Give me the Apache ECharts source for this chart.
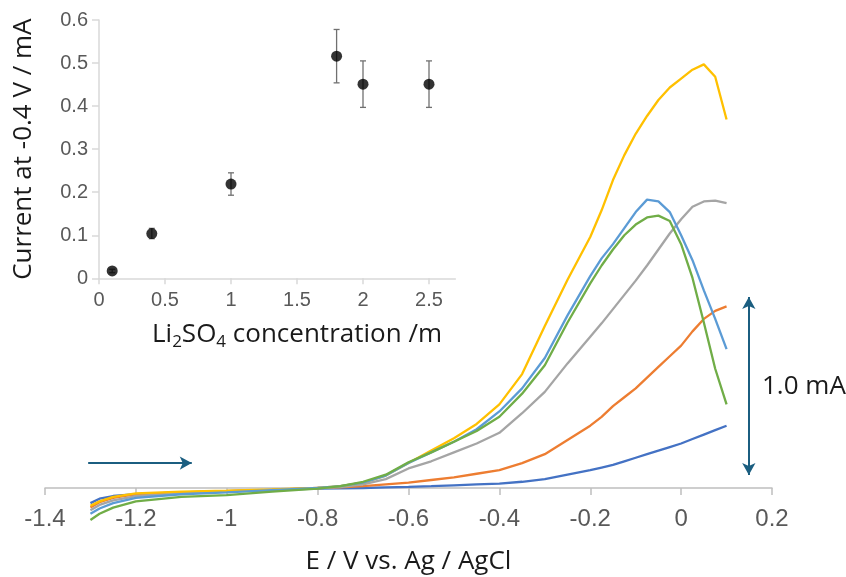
<!DOCTYPE html>
<html>
<head>
<meta charset="utf-8">
<script src="https://cdn.jsdelivr.net/npm/echarts@6/dist/echarts.min.js"></script>
<style>html,body{margin:0;padding:0;background:#fff}#c{width:846px;height:577px}</style>
</head>
<body>
<div id="c"></div>
<script>
// ---- Main chart data (E / V vs Ag/AgCl, current / mA) ----
const potential = [-1.3, -1.28, -1.25, -1.2, -1.1, -1.0, -0.9, -0.8, -0.75, -0.7, -0.65, -0.6, -0.55, -0.5, -0.45, -0.4, -0.35, -0.3, -0.25, -0.2, -0.175, -0.15, -0.125, -0.1, -0.075, -0.05, -0.025, 0, 0.025, 0.05, 0.075, 0.1];
const curveDarkBlue = [-0.085, -0.06, -0.045, -0.035, -0.025, -0.018, -0.01, -0.003, -0.002, 0.0, 0.003, 0.006, 0.01, 0.015, 0.02, 0.025, 0.035, 0.05, 0.075, 0.10, 0.115, 0.13, 0.15, 0.17, 0.19, 0.21, 0.23, 0.25, 0.275, 0.30, 0.325, 0.35];
const curveOrange = [-0.11, -0.08, -0.055, -0.035, -0.025, -0.018, -0.01, 0.0, 0.003, 0.01, 0.02, 0.03, 0.045, 0.06, 0.08, 0.10, 0.14, 0.19, 0.27, 0.35, 0.40, 0.46, 0.51, 0.56, 0.62, 0.68, 0.74, 0.80, 0.88, 0.95, 0.995, 1.02];
const curveGray = [-0.125, -0.095, -0.07, -0.045, -0.03, -0.02, -0.01, 0.0, 0.005, 0.02, 0.05, 0.11, 0.15, 0.20, 0.25, 0.31, 0.42, 0.54, 0.70, 0.85, 0.925, 1.005, 1.085, 1.165, 1.25, 1.34, 1.43, 1.51, 1.58, 1.61, 1.615, 1.60];
const curveYellow = [-0.10, -0.075, -0.05, -0.03, -0.02, -0.015, -0.008, 0.0, 0.01, 0.03, 0.07, 0.14, 0.21, 0.28, 0.36, 0.47, 0.64, 0.91, 1.17, 1.41, 1.56, 1.73, 1.87, 1.99, 2.09, 2.18, 2.25, 2.30, 2.35, 2.38, 2.31, 2.07];
const curveLightBlue = [-0.145, -0.115, -0.085, -0.055, -0.035, -0.025, -0.012, 0.0, 0.01, 0.03, 0.07, 0.14, 0.20, 0.26, 0.33, 0.43, 0.56, 0.73, 0.97, 1.19, 1.29, 1.37, 1.46, 1.55, 1.62, 1.61, 1.55, 1.42, 1.28, 1.11, 0.95, 0.78];
const curveGreen = [-0.18, -0.145, -0.11, -0.075, -0.05, -0.04, -0.02, -0.003, 0.01, 0.035, 0.075, 0.145, 0.20, 0.26, 0.32, 0.40, 0.53, 0.69, 0.93, 1.15, 1.25, 1.34, 1.42, 1.48, 1.52, 1.53, 1.50, 1.37, 1.18, 0.93, 0.67, 0.47];
const mainTicks = ['-1.4', '-1.2', '-1', '-0.8', '-0.6', '-0.4', '-0.2', '0', '0.2'];

// ---- Inset data ----
const concentration = [0.1, 0.4, 1, 1.8, 2, 2.5];
const currentAt04 = [0.017, 0.104, 0.219, 0.516, 0.451, 0.451];
const currentErr = [0.004, 0.012, 0.026, 0.062, 0.054, 0.054];
const insetXTicks = [0, 0.5, 1, 1.5, 2, 2.5];

// ---- Annotations (data units) ----
const scanArrow = [[-1.305, 0.14], [-1.077, 0.14]];
const scaleBar = [[0.149, 0.073], [0.149, 1.073]];

const zip = (xs, ys) => xs.map((x, i) => [x, ys[i]]);
const curves = [
  {name: '0.1 m', color: '#4472C4', data: curveDarkBlue},
  {name: '0.4 m', color: '#ED7D31', data: curveOrange},
  {name: '1 m', color: '#A5A5A5', data: curveGray},
  {name: '1.8 m', color: '#FFC000', data: curveYellow},
  {name: '2 m', color: '#5B9BD5', data: curveLightBlue},
  {name: '2.5 m', color: '#70AD47', data: curveGreen}
];
const FONT = 'Liberation Sans';
const TFONT = 'Open Sans';
const chart = echarts.init(document.getElementById('c'));

const series = curves.map(c => ({
  type: 'line', name: c.name, xAxisIndex: 0, yAxisIndex: 0, clip: false,
  data: zip(potential, c.data), showSymbol: false, symbol: 'none',
  lineStyle: {color: c.color, width: 2.3}, itemStyle: {color: c.color}, z: 2
}));

// annotation arrows as mark lines on the main axes
series.push({
  type: 'line', xAxisIndex: 0, yAxisIndex: 0, data: [], silent: true, clip: false,
  markLine: {
    silent: true, animation: false,
    lineStyle: {color: '#1B5E80', width: 2, type: 'solid'},
    label: {show: false},
    data: [
      [{coord: scanArrow[0], symbol: 'none'}, {coord: scanArrow[1], symbol: 'arrow', symbolSize: [10, 12]}],
      [{coord: scaleBar[0], symbol: 'arrow', symbolSize: [10, 12]}, {coord: scaleBar[1], symbol: 'arrow', symbolSize: [10, 12]}]
    ]
  }
});

// inset scatter
series.push({
  type: 'scatter', xAxisIndex: 1, yAxisIndex: 1,
  data: zip(concentration, currentAt04), symbolSize: 11,
  itemStyle: {color: '#000'}, z: 5
});
// inset error bars
series.push({
  type: 'custom', xAxisIndex: 1, yAxisIndex: 1,
  data: concentration.map((x, i) => [x, currentAt04[i], currentErr[i]]),
  renderItem: function (params, api) {
    const x = api.value(0), y = api.value(1), e = api.value(2);
    const hi = api.coord([x, y + e]);
    const lo = api.coord([x, y - e]);
    const w = 3;
    const st = {stroke: '#707070', lineWidth: 1.3};
    return {type: 'group', children: [
      {type: 'line', shape: {x1: hi[0], y1: hi[1], x2: lo[0], y2: lo[1]}, style: st},
      {type: 'line', shape: {x1: hi[0] - w, y1: hi[1], x2: hi[0] + w, y2: hi[1]}, style: st},
      {type: 'line', shape: {x1: lo[0] - w, y1: lo[1], x2: lo[0] + w, y2: lo[1]}, style: st}
    ]};
  },
  z: 4
});

chart.setOption({
  animation: false,
  backgroundColor: '#fff',
  grid: [
    {left: 45, right: 74, top: 43, bottom: 89, containLabel: false, outerBoundsMode: 'none'},
    {left: 99, right: 390.6, top: 20, bottom: 298.7, containLabel: false, outerBoundsMode: 'none'}
  ],
  xAxis: [
    {
      type: 'value', gridIndex: 0, min: -1.4, max: 0.2, interval: 0.2,
      axisLine: {onZero: false, lineStyle: {color: '#BFBFBF', width: 1.5}},
      axisTick: {show: true, inside: false, length: 7, lineStyle: {color: '#BFBFBF', width: 1.5}},
      splitLine: {show: false},
      axisLabel: {fontFamily: FONT, fontSize: 24, color: '#595959', margin: 19,
        formatter: v => mainTicks.find(t => Math.abs(parseFloat(t) - v) < 1e-6) || ''},
      name: 'E / V vs. Ag / AgCl', nameLocation: 'middle', nameGap: 61,
      nameTextStyle: {fontFamily: TFONT, fontSize: 26, color: '#1a1a1a'}
    },
    {
      type: 'value', gridIndex: 1, min: 0, max: 2.7,
      axisLine: {onZero: false, lineStyle: {color: '#D9D9D9', width: 1.5}},
      axisTick: {show: true, length: 6, customValues: insetXTicks, lineStyle: {color: '#D9D9D9', width: 1.5}},
      splitLine: {show: false},
      axisLabel: {fontFamily: FONT, fontSize: 20, color: '#595959', margin: 12, customValues: insetXTicks,
        formatter: v => String(v)}
    }
  ],
  yAxis: [
    {type: 'value', gridIndex: 0, min: 0, max: 2.5, show: false, splitLine: {show: false}},
    {
      type: 'value', gridIndex: 1, min: 0, max: 0.6, interval: 0.1,
      axisLine: {show: true, lineStyle: {color: '#D9D9D9', width: 1.5}},
      axisTick: {show: true, length: 7, lineStyle: {color: '#D9D9D9', width: 1.5}},
      splitLine: {show: false},
      axisLabel: {fontFamily: FONT, fontSize: 20, color: '#595959', margin: 11,
        formatter: v => String(Math.round(v * 10) / 10)},
      name: 'Current at -0.4 V / mA', nameLocation: 'middle', nameGap: 62,
      nameTextStyle: {fontFamily: TFONT, fontSize: 26, color: '#1a1a1a'}
    }
  ],
  graphic: [
    {type: 'text', x: 297, y: 335, style: {
      text: 'Li{s|2}SO{s|4} concentration /m', fontFamily: TFONT, fontSize: 26, fill: '#1a1a1a',
      align: 'center', verticalAlign: 'middle', lineHeight: 32,
      rich: {s: {fontFamily: TFONT, fontSize: 17, verticalAlign: 'bottom', lineHeight: 32, fill: '#1a1a1a'}}
    }},
    {type: 'text', x: 762, y: 387, style: {
      text: '1.0 mA', fontFamily: TFONT, fontSize: 26, fill: '#1a1a1a', align: 'left', verticalAlign: 'middle'
    }}
  ],
  series: series
});
</script>
</body>
</html>
